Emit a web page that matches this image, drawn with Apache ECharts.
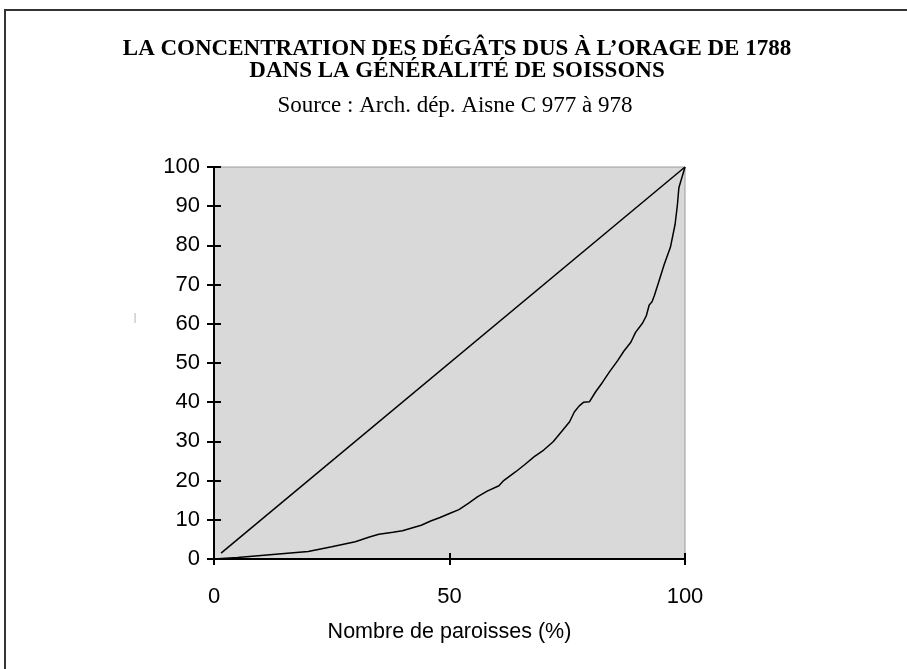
<!DOCTYPE html>
<html>
<head>
<meta charset="utf-8">
<script src="https://cdn.jsdelivr.net/npm/echarts@6/dist/echarts.min.js"></script>
<style>
    html, body { margin: 0; padding: 0; background: #fff; }
    #chart { width: 907px; height: 669px; }
</style>
</head>
<body>
<div id="chart"></div>
<script>
// courbe de concentration (% paroisses, % dégâts)
let parishPct = [0, 5, 10, 15, 20, 25, 30, 33, 35, 38, 40, 42, 44, 46, 48, 50, 52, 54, 56, 58,
    60.5, 61.5, 64, 66, 68, 70, 72, 73.5, 75.5, 76.5, 77.5, 78.5, 79.7, 81, 82.5, 84, 85.7, 87,
    88.5, 89.5, 91, 91.8, 92.4, 93, 93.5, 94.5, 95.6, 96.9, 97.9, 98.4, 98.7, 100];
let damagePct = [0, 0.4, 0.9, 1.4, 1.9, 3.1, 4.4, 5.6, 6.3, 6.8, 7.2, 7.9, 8.6, 9.7, 10.6, 11.6, 12.6, 14.2, 15.9, 17.3,
    18.7, 20.0, 22.2, 24.1, 26.1, 27.8, 29.9, 32.1, 35.0, 37.5, 39.0, 40.0, 40.1, 42.6, 45.1, 47.8, 50.6, 53.0,
    55.3, 57.8, 60.2, 62.1, 64.8, 65.6, 67.2, 71.0, 75.2, 79.5, 85.4, 90.5, 94.7, 100];
// diagonale d'égalité
let equalX = [1.5, 100];
let equalY = [1.5, 100];
let xTicks = [0, 50, 100];
let yTicks = [0, 10, 20, 30, 40, 50, 60, 70, 80, 90, 100];

let chart = echarts.init(document.getElementById("chart"));

function pairs(xs, ys) {
    return xs.map(function(x, i) { return [x, ys[i]]; });
}

let sans = "Liberation Sans";
let serif = "Liberation Serif";

let axisBase = {
    type: "value",
    min: 0,
    max: 100,
    splitLine: { show: false }
};

let option = {
    backgroundColor: "#fff",
    animation: false,
    title: [
        {
            text: "LA CONCENTRATION DES DÉGÂTS DUS À L’ORAGE DE 1788\nDANS LA GÉNÉRALITÉ DE SOISSONS",
            left: 452,
            top: 33,
            textAlign: "center",
            textStyle: {
                fontFamily: serif,
                fontWeight: "bold",
                fontSize: 23,
                lineHeight: 22,
                color: "#000"
            }
        },
        {
            text: "Source : Arch. dép. Aisne C 977 à 978",
            left: 450,
            top: 89,
            textAlign: "center",
            textStyle: {
                fontFamily: serif,
                fontWeight: "normal",
                fontSize: 23,
                color: "#000"
            }
        }
    ],
    grid: {
        left: 214,
        right: 222,
        top: 167,
        bottom: 110,
        show: true,
        backgroundColor: "#d9d9d9",
        borderColor: "#9a9a9a",
        borderWidth: 1
    },
    xAxis: [
        Object.assign({}, axisBase, {
            interval: 50,
            name: "Nombre de paroisses (%)",
            nameLocation: "middle",
            nameGap: 62,
            nameTextStyle: { fontFamily: sans, fontSize: 21.5, color: "#000" },
            axisLine: { lineStyle: { color: "#000", width: 2 } },
            axisTick: { length: 6, lineStyle: { color: "#000", width: 2 } },
            axisLabel: {
                margin: 27,
                fontFamily: sans,
                fontSize: 22,
                color: "#000",
                customValues: xTicks
            }
        }),
        // ticks qui traversent l'axe (partie intérieure)
        Object.assign({}, axisBase, {
            interval: 50,
            position: "bottom",
            axisLine: { show: false },
            axisTick: { inside: true, length: 6, lineStyle: { color: "#000", width: 2 } },
            axisLabel: { show: false }
        })
    ],
    yAxis: [
        Object.assign({}, axisBase, {
            interval: 10,
            axisLine: { lineStyle: { color: "#000", width: 2 } },
            axisTick: { length: 7, lineStyle: { color: "#000", width: 2 } },
            axisLabel: {
                margin: 14,
                fontFamily: sans,
                fontSize: 22,
                color: "#000",
                customValues: yTicks
            }
        }),
        Object.assign({}, axisBase, {
            interval: 10,
            position: "left",
            axisLine: { show: false },
            axisTick: { inside: true, length: 7, lineStyle: { color: "#000", width: 2 } },
            axisLabel: { show: false }
        })
    ],
    graphic: [
        {
            type: "polyline",
            shape: { points: [[5, 669], [5, 10], [907, 10]] },
            style: { stroke: "#333", lineWidth: 2, fill: null },
            silent: true
        },
        {
            // petite marque isolée à gauche de l'axe
            type: "text",
            x: 135,
            y: 318,
            style: { text: "|", fontFamily: sans, fontSize: 10, fill: "#aaa", align: "center", verticalAlign: "middle" },
            silent: true
        }
    ],
    series: [
        {
            type: "line",
            name: "égalité",
            data: pairs(equalX, equalY),
            showSymbol: false,
            lineStyle: { color: "#000", width: 1.5 }
        },
        {
            type: "line",
            name: "dégâts",
            data: pairs(parishPct, damagePct),
            showSymbol: false,
            lineStyle: { color: "#000", width: 1.5 }
        }
    ]
};

chart.setOption(option, true);
</script>
</body>
</html>
